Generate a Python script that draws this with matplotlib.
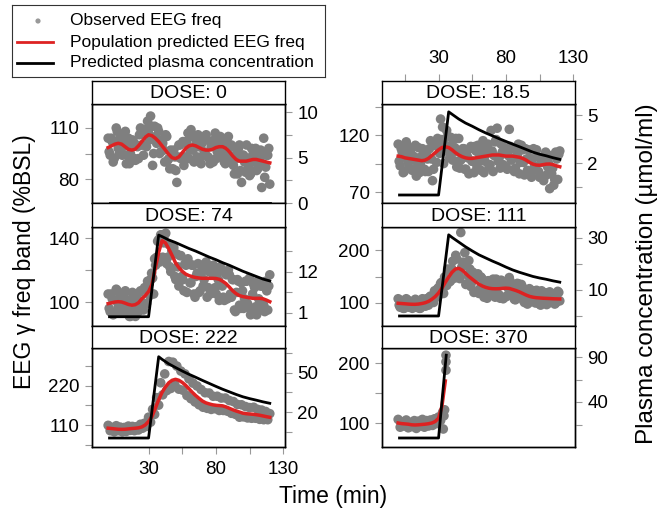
import numpy as np
import matplotlib
matplotlib.use('Agg')
import matplotlib.pyplot as plt

plt.rcParams['font.family'] = ['Liberation Sans', 'DejaVu Sans']

W, H = 667, 515

# time grids (min)
obs_time = np.arange(0, 120.1, 1.5)
obs_time_b = np.arange(0.75, 120, 1.5)
red_time = np.arange(0, 120.1, 2.5)
conc_time = [1, 30, 37.5, 40, 45, 50, 55, 60, 65, 70, 75, 80, 85, 90, 95, 100, 105, 110, 115, 120]

# observed EEG freq (%BSL)
obs_0 = [104, 94, 102, 92, 110, 98, 105, 94, 100, 89, 104, 95, 103, 92, 100, 92, 110, 100, 108, 99,
         107, 117, 88, 111, 101, 108, 96, 101, 90, 105, 92, 97, 86, 93, 78, 100, 92, 102, 93, 101,
         92, 109, 97, 104, 93, 99, 89, 104, 95, 103, 92, 99, 90, 107, 96, 103, 93, 100, 89, 104,
         94, 100, 88, 94, 83, 100, 78, 94, 84, 92, 82, 98, 90, 98, 86, 93, 75, 104, 87, 94, 77]
obs_0b = [96, 104, 90, 102, 108, 95, 104, 99, 108, 94, 89, 99, 102, 91, 99, 106, 100, 94, 109, 114,
          103, 111, 95, 105, 110, 95, 103, 97, 106, 91, 86, 95, 97, 85, 93, 100, 93, 88, 102, 107,
          97, 105, 90, 100, 106, 92, 101, 96, 106, 93, 89, 100, 103, 92, 99, 105, 97, 90, 102, 105,
          92, 99, 83, 92, 98, 85, 94, 90, 100, 87, 83, 94, 97, 85, 91, 97, 89, 81, 94, 98]
obs_18 = [112, 93, 105, 88, 114, 96, 106, 89, 101, 84, 109, 95, 108, 90, 103, 88, 115, 80, 111, 96,
          109, 134, 127, 106, 124, 106, 118, 98, 109, 92, 117, 98, 108, 90, 102, 86, 110, 97, 110, 92,
          104, 89, 115, 97, 109, 92, 124, 88, 114, 126, 100, 112, 94, 106, 90, 125, 98, 108, 91, 103,
          86, 111, 96, 108, 89, 100, 83, 108, 90, 101, 83, 96, 80, 105, 92, 73, 86, 76, 105, 81, 106]
obs_18b = [97, 108, 87, 101, 110, 91, 103, 98, 111, 92, 87, 101, 105, 88, 99, 108, 99, 90, 111, 117,
           104, 116, 95, 111, 119, 100, 111, 105, 117, 97, 91, 104, 108, 90, 100, 108, 97, 87, 106, 111,
           97, 108, 87, 103, 112, 94, 106, 102, 116, 97, 91, 105, 109, 92, 102, 110, 99, 88, 107, 112,
           96, 107, 85, 99, 107, 88, 99, 93, 107, 88, 83, 97, 101, 85, 95, 102, 91, 81, 99, 103]
obs_74 = [105, 94, 102, 93, 108, 97, 104, 94, 105, 94, 101, 91, 106, 95, 103, 94, 107, 97, 109, 99,
          111, 114, 115, 127, 128, 139, 142, 128, 142, 124, 136, 119, 134, 116, 130, 110, 129, 114, 124, 106,
          124, 112, 123, 103, 118, 106, 123, 110, 121, 103, 119, 107, 123, 109, 118, 101, 120, 103, 118, 102,
          117, 103, 114, 94, 114, 98, 112, 96, 113, 99, 115, 94, 111, 97, 113, 95, 110, 98, 113, 95, 117]
obs_74b = [96, 105, 92, 101, 107, 94, 103, 99, 107, 95, 91, 100, 103, 91, 99, 106, 100, 95, 108, 113,
           104, 118, 105, 123, 138, 125, 142, 137, 143, 128, 122, 132, 134, 114, 122, 129, 116, 107, 123, 127,
           112, 123, 105, 116, 124, 107, 119, 114, 125, 109, 105, 118, 122, 105, 114, 122, 110, 101, 117, 120,
           105, 114, 95, 106, 113, 96, 107, 102, 113, 97, 92, 105, 109, 92, 102, 110, 99, 94, 107, 110]
obs_111 = [108, 92, 102, 90, 108, 94, 103, 90, 104, 92, 101, 90, 108, 96, 108, 96, 113, 102, 123, 111,
           129, 137, 122, 149, 133, 163, 142, 179, 147, 183, 152, 233, 177, 195, 136, 180, 131, 158, 121, 150,
           118, 149, 120, 140, 109, 142, 117, 145, 111, 135, 115, 143, 108, 140, 114, 148, 116, 133, 106, 137,
           113, 135, 105, 126, 98, 127, 104, 123, 100, 118, 98, 123, 103, 119, 99, 121, 102, 117, 100, 122, 104]
obs_111b = [96, 105, 90, 100, 106, 92, 101, 97, 107, 94, 90, 101, 105, 94, 102, 111, 104, 101, 119, 127,
            116, 139, 118, 143, 164, 140, 165, 157, 190, 155, 146, 168, 173, 135, 152, 164, 140, 120, 150, 155,
            127, 146, 111, 131, 142, 114, 133, 125, 145, 117, 109, 134, 140, 112, 128, 141, 120, 107, 131, 136,
            114, 128, 101, 117, 125, 102, 117, 109, 124, 102, 96, 113, 119, 97, 109, 118, 104, 98, 116, 120]
obs_222 = [109, 94, 103, 91, 108, 94, 104, 91, 103, 92, 107, 95, 106, 94, 105, 96, 112, 101, 115, 106,
           132, 118, 154, 140, 187, 166, 229, 195, 254, 207, 289, 213, 287, 223, 276, 211, 262, 208, 254, 193,
           240, 184, 228, 175, 220, 167, 210, 160, 201, 157, 200, 154, 191, 156, 191, 151, 186, 151, 186, 149,
           179, 143, 176, 140, 168, 132, 167, 133, 162, 130, 159, 129, 160, 129, 154, 126, 152, 125, 148, 125, 142]
obs_370_time = [0, 1.5, 3, 4.5, 6, 7.5, 9, 10.5, 12, 13.5, 15, 16.5, 18, 19.5, 21, 22.5, 24, 25.5, 27, 28.5,
                30, 31.5, 33, 33.5, 34, 34.5, 35.5, 35.5, 35.5]
obs_370 = [106, 93, 102, 95, 105, 92, 101, 94, 104, 91, 103, 95, 106, 93, 104, 95, 105, 96, 107, 99,
           110, 104, 118, 90, 112, 122, 188, 202, 213]

# population predicted EEG freq
red_0 = [98.5, 99.5, 100.5, 101, 100.5, 99, 97.5, 97, 97.5, 99.5, 102, 104.5, 106, 105.5, 104, 102, 99.5,
         97, 94.5, 92.5, 92, 93, 95.5, 98, 99.5, 100, 99.5, 98.5, 97.5, 97, 97, 97.5, 98.5, 99, 99, 98, 96,
         93.5, 91.5, 90.5, 90.5, 90.5, 91, 91.5, 91.5, 91, 90.5, 90, 89.5]
red_18 = [101.5, 101, 100, 99.5, 99, 98.5, 98, 97.5, 98, 99.5, 102, 104.5, 107, 109, 109.7, 109, 107, 104.5,
          102.5, 101, 100, 99.5, 99.5, 100, 100.5, 101, 101.5, 102, 102.5, 102.5, 102.5, 102, 101.5, 101.5,
          101.5, 101, 100.5, 99.5, 98, 96, 94.5, 93.7, 93.5, 94, 94.5, 94.6, 94, 93, 92.2]
red_74 = [99, 99.5, 100, 100.2, 100, 99.3, 98.5, 98, 98.3, 99.5, 102, 104, 106.5, 111, 121, 131, 138.3, 137,
          133.3, 129, 124.5, 121.5, 119.2, 117.5, 116.5, 115.8, 115.3, 115, 114.8, 114.8, 114.8, 114.8, 114.7,
          114.2, 113, 111.5, 109.3, 107, 105.2, 104, 103.4, 103, 102.6, 102.3, 102.3, 102.3, 102, 101.2, 100.2]
red_111 = [99.5, 99, 98.5, 98, 97.6, 97.5, 98, 99, 100.5, 103, 107, 112, 119, 128, 139, 149, 158, 164, 165.5,
           162, 156, 150, 145, 140, 135.5, 132, 129.5, 127.8, 127, 126.8, 127, 127.6, 128, 127.5, 125.5, 123.5,
           121, 118, 115, 112.5, 111, 110, 109.5, 109, 108.7, 108.4, 108, 107.8, 107.6]
red_222 = [101, 100, 99, 98, 97.7, 98, 99, 100, 100.8, 102, 104.5, 110, 120, 134, 157, 181, 202, 217, 229, 236,
           238.8, 236, 230, 222, 212, 202, 193, 185, 177.5, 172.5, 169.5, 167, 165.5, 164.8, 164, 161, 157,
           153, 149.5, 146.5, 143.3, 141.8, 141, 140.3, 139, 137.5, 135.5, 133.5, 131.7]
red_370 = [100, 99, 98.5, 98, 97, 96.7, 97, 97.5, 98, 98.8, 100, 102.5, 108, 128, 170]

# predicted plasma concentration (umol/ml)
conc_0 = [0, 0, 0, 0, 0, 0, 0, 0, 0, 0, 0, 0, 0, 0, 0, 0, 0, 0, 0, 0]
conc_18 = [0, 0, 5.2, 5.05, 4.75, 4.5, 4.3, 4.08, 3.88, 3.7, 3.52, 3.35, 3.18, 3.02, 2.85, 2.68, 2.55, 2.45, 2.33, 2.23]
conc_74 = [0, 0, 21.9, 21.5, 20.6, 19.9, 19.1, 18.3, 17.6, 16.8, 16.0, 15.3, 14.5, 13.8, 13.0, 12.2, 11.5, 10.8, 10.1, 9.6]
conc_111 = [0, 0, 31.2, 30.2, 28.4, 26.6, 25.0, 23.5, 22.3, 21.1, 20.0, 18.8, 17.7, 16.8, 16.0, 15.2, 14.6, 14.1, 13.5, 13.0]
conc_222 = [0, 0, 62.5, 60.5, 57.0, 54.2, 51.5, 49.0, 46.7, 44.3, 42.0, 39.7, 37.5, 35.5, 33.5, 31.7, 30.3, 29.1, 27.8, 26.7]
conc_370_time = [1, 30, 35.7]
conc_370 = [0, 0, 92]

GREY = '#7f7f7f'
RED = '#dd2222'
TICKC = '#999999'
XLIM = (-12, 131.3)

cols = {0: (92, 285), 1: (382, 575)}
rows = {0: (81, 104, 203), 1: (203, 227, 326), 2: (326, 348, 447)}


def box(x0, y0, x1, y1):
    return [x0 / W, 1 - y1 / H, (x1 - x0) / W, (y1 - y0) / H]


panels = [
    ('0', 0, 0, [(obs_time, obs_0), (obs_time_b, obs_0b)], red_0, conc_time, conc_0,
     (65.9, 124.1), [80, 95, 110], ['80', '', '110'],
     (0, 10.88), [0, 2.5, 5, 7.5, 10], ['0', '', '5', '', '10']),
    ('18.5', 1, 0, [(obs_time, obs_18), (obs_time_b, obs_18b)], red_18, conc_time, conc_18,
     (60.4, 147.2), [70, 95, 120, 145], ['70', '', '120', ''],
     (-0.5, 5.69), [0.5, 2, 3.5, 5], ['', '2', '', '5']),
    ('74', 0, 1, [(obs_time, obs_74), (obs_time_b, obs_74b)], red_74, conc_time, conc_74,
     (85, 146.9), [100, 120, 140], ['100', '', '140'],
     (-2.49, 24.07), [1, 6.5, 12, 17.5], ['1', '', '12', '']),
    ('111', 1, 1, [(obs_time, obs_111), (obs_time_b, obs_111b)], red_111, conc_time, conc_111,
     (56.6, 243.4), [100, 150, 200], ['100', '', '200'],
     (-3.85, 34.2), [0, 10, 20, 30], ['', '10', '', '30']),
    ('222', 0, 2, [(obs_time, obs_222)], red_222, conc_time, conc_222,
     (48, 327), [55, 110, 165, 220, 275], ['', '110', '', '220', ''],
     (-6.9, 69.2), [5, 20, 35, 50, 65], ['', '20', '', '50', '']),
    ('370', 1, 2, [(obs_370_time, obs_370)], red_370, conc_370_time, conc_370,
     (60, 225), [100, 150, 200], ['100', '', '200'],
     (-10, 100), [15, 40, 65, 90], ['', '40', '', '90']),
]

fig = plt.figure(figsize=(W / 100, H / 100), dpi=100)

for (dose, c, r, obs_sets, rv, ct, cv, elim, eticks, elabs, clim, cticks, clabs) in panels:
    x0, x1 = cols[c]
    st, sb, pb = rows[r]

    ax = fig.add_axes(box(x0, sb, x1, pb))
    for ot, ov in obs_sets:
        ax.scatter(ot, ov, s=48, color=GREY, edgecolors='none', zorder=1)
    ax.plot(red_time[:len(rv)], rv, color=RED, lw=2.5, zorder=2)
    ax.set_xlim(*XLIM)
    ax.set_ylim(*elim)
    ax.set_yticks(eticks)
    ax.set_yticklabels(elabs)
    ax.tick_params(axis='y', direction='out', length=5, width=0.8, color=TICKC,
                   labelsize=13.5, pad=4)
    if c == 0 and r == 2:
        ax.set_xticks([30, 80, 130])
        ax.set_xticks([55, 105], minor=True)
        ax.tick_params(axis='x', which='both', direction='out', length=5, width=0.8,
                       color=TICKC, labelsize=13.5, pad=5)
    else:
        ax.set_xticks([])

    ax2 = ax.twinx()
    ax2.plot(ct, cv, color='black', lw=2.0, zorder=3)
    ax2.set_ylim(*clim)
    ax2.set_yticks(cticks)
    ax2.set_yticklabels(clabs)
    ax2.tick_params(axis='y', direction='out', length=5, width=0.8, color=TICKC,
                    labelsize=13.5, pad=4)
    for a in (ax, ax2):
        for sp in a.spines.values():
            sp.set_linewidth(1.0)

    strip = fig.add_axes(box(x0, st, x1, sb))
    strip.set_xlim(*XLIM)
    strip.set_yticks([])
    strip.text(0.5, 0.45, 'DOSE: ' + dose, transform=strip.transAxes,
               ha='center', va='center', fontsize=14)
    for sp in strip.spines.values():
        sp.set_linewidth(1.0)
    if c == 1 and r == 0:
        strip.xaxis.tick_top()
        strip.set_xticks([30, 80, 130])
        strip.set_xticks([5, 55, 105], minor=True)
        strip.tick_params(axis='x', which='both', direction='out', length=5, width=0.8,
                          color=TICKC, labelsize=13.5, pad=5)
    else:
        strip.set_xticks([])

fig.text(333 / W, 1 - 497 / H, 'Time (min)', ha='center', va='center', fontsize=16.5)
fig.text(25 / W, 1 - 262 / H, 'EEG γ freq band (%BSL)', rotation=90,
         ha='center', va='center', fontsize=16.5)
fig.text(647 / W, 1 - 274 / H, 'Plasma concentration (µmol/ml)', rotation=90,
         ha='center', va='center', fontsize=17.5)

# legend box
lg = fig.add_axes(box(12, 5, 325, 77))
lg.set_xlim(12, 325)
lg.set_ylim(77, 5)
lg.set_xticks([])
lg.set_yticks([])
for sp in lg.spines.values():
    sp.set_linewidth(0.8)
    sp.set_color('#333333')
lg.scatter([38], [21], s=14, color='#999999', edgecolors='none')
lg.plot([17, 53], [42, 42], color=RED, lw=2)
lg.plot([17, 53], [63, 63], color='black', lw=2)
for yy, txt in zip([21, 42, 63], ['Observed EEG freq', 'Population predicted EEG freq',
                                  'Predicted plasma concentration']):
    lg.text(70, yy, txt, ha='left', va='center', fontsize=12.5)

fig.savefig('out.png', dpi=100)
